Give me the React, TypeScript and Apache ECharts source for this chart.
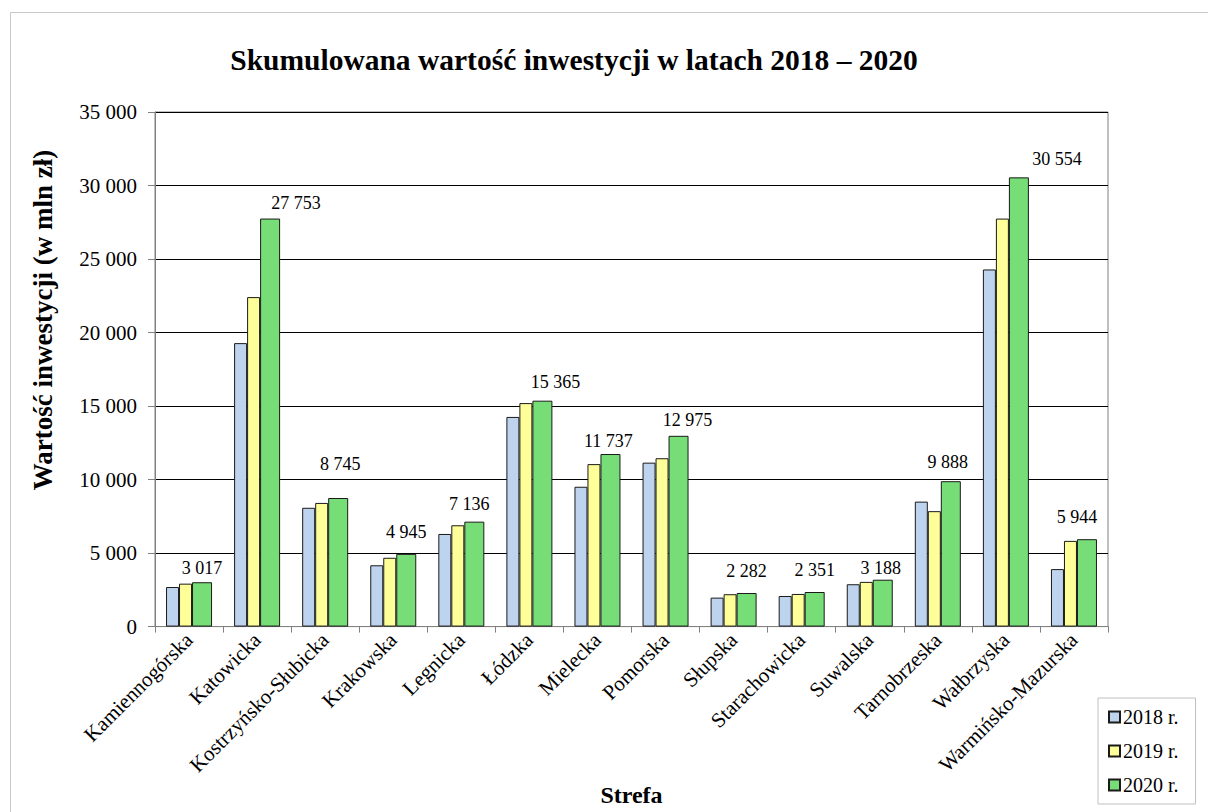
import React, { useEffect, useRef } from "react";
import * as echarts from "echarts";

const categories = [
  "Kamiennogórska",
  "Katowicka",
  "Kostrzyńsko-Słubicka",
  "Krakowska",
  "Legnicka",
  "Łódzka",
  "Mielecka",
  "Pomorska",
  "Słupska",
  "Starachowicka",
  "Suwalska",
  "Tarnobrzeska",
  "Wałbrzyska",
  "Warmińsko-Mazurska",
];

const values2018 = [2690, 19280, 8080, 4170, 6300, 14260, 9510, 11150, 1970, 2080, 2880, 8500, 24290, 3910];
const values2019 = [2920, 22410, 8410, 4680, 6890, 15200, 11050, 11450, 2200, 2220, 3040, 7850, 27750, 5830];
const values2020 = [3017, 27753, 8745, 4945, 7136, 15365, 11737, 12975, 2282, 2351, 3188, 9888, 30554, 5944];

// hand-placed label nudges (styling only), as in the original chart
const labelOffsets2020 = [
  [0, 0], [26, -2], [2, -20], [0, -8], [-5, -4], [13, -5], [-2, 1],
  [9, -2], [0, -8], [0, -8], [-2, 2], [-3, -5], [38, -4], [-10, -8],
];

const seriesNames = ["2018 r.", "2019 r.", "2020 r."];
const yTicks = { min: 0, max: 35000, interval: 5000 };

const FONT = "Liberation Serif";

const fmt = (v: number) => String(Math.round(v)).replace(/\B(?=(\d{3})+(?!\d))/g, " ");

export default function App() {
  const ref = useRef<HTMLDivElement>(null);

  useEffect(() => {
    if (!ref.current) return;
    const chart = echarts.init(ref.current, undefined, { renderer: "svg" });
    const barBorder = { borderColor: "#1a1a1a", borderWidth: 1 };
    const data2020 = values2020.map((v, i) => ({
      value: v,
      label: { offset: labelOffsets2020[i] },
    }));
    chart.setOption({
      animation: false,
      backgroundColor: "#ffffff",
      textStyle: { fontFamily: FONT, color: "#000" },
      graphic: [
        {
          type: "rect",
          shape: { x: 10.5, y: 12.5, width: 1400, height: 1000 },
          style: { fill: "none", stroke: "#c8c8c8", lineWidth: 1 },
          silent: true,
          z: -10,
        },
        {
          type: "text",
          x: 43,
          y: 320,
          rotation: Math.PI / 2,
          style: {
            text: "Wartość inwestycji (w mln zł)",
            fontFamily: FONT,
            fontSize: 27,
            fontWeight: "bold",
            fill: "#000",
            align: "center",
            verticalAlign: "middle",
          },
          silent: true,
        },
      ],
      title: {
        text: "Skumulowana wartość inwestycji w latach 2018 – 2020",
        left: 569,
        top: 40,
        textAlign: "center",
        textStyle: { fontFamily: FONT, fontSize: 29.5, fontWeight: "bold", color: "#000" },
      },
      legend: {
        orient: "vertical",
        left: 1098,
        top: 698,
        itemWidth: 11,
        itemHeight: 11,
        itemGap: 14,
        padding: [9, 17, 9, 10],
        borderColor: "#c0c0c0",
        borderWidth: 1,
        backgroundColor: "#fff",
        icon: "rect",
        textStyle: { fontFamily: FONT, fontSize: 20, color: "#000", padding: [0, 0, 0, -2] },
        data: seriesNames,
      },
      grid: {
        left: 155,
        right: 100,
        top: 112,
        bottom: 185,
        show: true,
        borderColor: "#808080",
        borderWidth: 1,
      },
      xAxis: {
        type: "category",
        data: categories,
        name: "Strefa",
        nameLocation: "middle",
        nameGap: 146,
        nameTextStyle: { fontFamily: FONT, fontSize: 24, fontWeight: "bold", color: "#000" },
        axisLine: { lineStyle: { color: "#808080", width: 1 } },
        axisTick: { show: true, length: 6, lineStyle: { color: "#808080" } },
        axisLabel: {
          rotate: 45,
          interval: 0,
          margin: 10,
          fontFamily: FONT,
          fontSize: 21,
          color: "#000",
        },
      },
      yAxis: {
        type: "value",
        min: yTicks.min,
        max: yTicks.max,
        interval: yTicks.interval,
        axisLine: { show: true, lineStyle: { color: "#808080", width: 1 } },
        axisTick: { show: true, length: 7, lineStyle: { color: "#808080" } },
        axisLabel: {
          margin: 18,
          fontFamily: FONT,
          fontSize: 21,
          color: "#000",
          formatter: (v: number) => fmt(v),
        },
        splitLine: { show: true, lineStyle: { color: "#000", width: 1 } },
      },
      series: [
        {
          name: seriesNames[0],
          type: "bar",
          data: values2018,
          barWidth: 13,
          barGap: "0%",
          itemStyle: { color: "#BDD3EE", ...barBorder },
        },
        {
          name: seriesNames[1],
          type: "bar",
          data: values2019,
          barWidth: 13,
          barGap: "0%",
          itemStyle: { color: "#FFFF99", ...barBorder },
        },
        {
          name: seriesNames[2],
          type: "bar",
          data: data2020,
          barWidth: 20,
          barGap: "0%",
          itemStyle: { color: "#77DD77", ...barBorder },
          label: {
            show: true,
            position: "top",
            distance: 5,
            fontFamily: FONT,
            fontSize: 18,
            color: "#000",
            formatter: (p: any) => fmt(p.value),
          },
        },
      ],
    });
    return () => chart.dispose();
  }, []);

  return (
    <div
      ref={ref}
      style={{ position: "fixed", left: 0, top: 0, width: 1208, height: 812, background: "#fff" }}
    />
  );
}
